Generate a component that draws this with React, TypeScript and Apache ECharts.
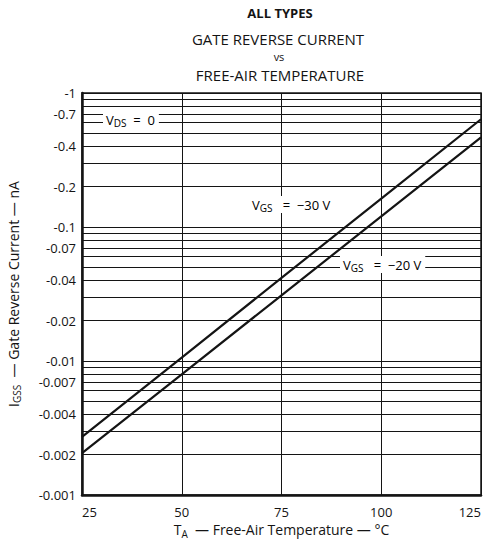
import React, { useEffect, useRef } from "react";
import * as echarts from "echarts";

const temperatureC = [25, 50, 75, 100, 125];
const igssVgs30 = [0.00272, 0.0106, 0.0417, 0.163, 0.637];
const igssVgs20 = [0.00205, 0.00796, 0.0309, 0.12, 0.467];
const xTickValues = [25, 50, 75, 100, 125];
const yLabelValues = [0.001, 0.002, 0.004, 0.007, 0.01, 0.02, 0.04, 0.07, 0.1, 0.2, 0.4, 0.7, 1];
const yGridValues = [
  0.001, 0.002, 0.003, 0.004, 0.005, 0.006, 0.007, 0.008, 0.009,
  0.01, 0.02, 0.03, 0.04, 0.05, 0.06, 0.07, 0.08, 0.09,
  0.1, 0.2, 0.3, 0.4, 0.5, 0.6, 0.7, 0.8, 0.9, 1,
];

const FONT = "Open Sans";
const INK = "#141414";

export default function App() {
  const ref = useRef<HTMLDivElement>(null);
  useEffect(() => {
    if (!ref.current) return;
    const chart = echarts.init(ref.current, null, { renderer: "svg" });
    const rich = {
      v: { fontSize: 13, fontFamily: FONT, color: INK },
      s: { fontSize: 10, fontFamily: FONT, color: INK, padding: [7, 0, 0, 0] },
    };
    const nameRich = {
      v: { fontSize: 14, fontFamily: FONT, color: INK },
      s: { fontSize: 10, fontFamily: FONT, color: INK, padding: [8, 0, 0, 0] },
    };
    chart.setOption({
      animation: false,
      backgroundColor: "#fff",
      grid: {
        left: 82, right: 8, top: 93, bottom: 47,
        outerBoundsMode: "none",
        containLabel: false,
        show: true, borderColor: INK, borderWidth: 1.5,
      },
      graphic: [
        { type: "text", x: 280, y: 6, style: { text: "ALL TYPES", font: `bold 13px '${FONT}'`, fill: INK, align: "center" } },
        { type: "text", x: 278, y: 31, style: { text: "GATE REVERSE CURRENT", font: `15px '${FONT}'`, fill: INK, align: "center" } },
        { type: "text", x: 279, y: 51, style: { text: "vs", font: `11px '${FONT}'`, fill: INK, align: "center" } },
        { type: "text", x: 280, y: 67, style: { text: "FREE-AIR TEMPERATURE", font: `15px '${FONT}'`, fill: INK, align: "center" } },
        {
          type: "text", left: 103, top: 111, z: 10,
          style: { text: "{v|V}{s|DS}{v|  =  0}", rich, backgroundColor: "#fff", padding: [0, 4, 0, 3] },
        },
        {
          type: "text", left: 249, top: 196, z: 10,
          style: { text: "{v|V}{s|GS}{v|   =  −30 V}", rich, backgroundColor: "#fff", padding: [0, 4, 0, 3] },
        },
        {
          type: "text", left: 340, top: 256, z: 10,
          style: { text: "{v|V}{s|GS}{v|   =  −20 V}", rich, backgroundColor: "#fff", padding: [0, 4, 0, 3] },
        },
      ],
      xAxis: {
        type: "value",
        min: 25, max: 125, interval: 25,
        name: "{v|T}{s|A}{v|  — Free-Air Temperature — °C}",
        nameLocation: "middle",
        nameGap: 24,
        nameTextStyle: { rich: nameRich },
        axisLine: { show: true, lineStyle: { color: INK, width: 2.5 } },
        axisTick: { show: false, customValues: xTickValues },
        axisLabel: {
          customValues: xTickValues,
          color: INK, fontSize: 13, fontFamily: FONT, margin: 10,
          alignMinLabel: "left", alignMaxLabel: "right",
        },
        splitLine: { show: true, lineStyle: { color: INK, width: 1 } },
      },
      yAxis: {
        type: "log",
        logBase: 10,
        min: 0.001, max: 1,
        name: "{v|I}{s|GSS}{v|  — Gate Reverse Current — nA}",
        nameLocation: "middle",
        nameGap: 60,
        nameTextStyle: { rich: nameRich },
        axisLine: { show: true, lineStyle: { color: INK, width: 2.5 } },
        axisTick: { show: false, customValues: yGridValues },
        axisLabel: {
          customValues: yLabelValues,
          color: INK, fontSize: 13, fontFamily: FONT, margin: 6,
          formatter: (v: number) => "-" + String(Number(v.toPrecision(3))),
        },
        splitLine: { show: true, lineStyle: { color: INK, width: 1 } },
      },
      series: [
        {
          name: "VGS = -30 V",
          type: "line",
          data: temperatureC.map((t, i) => [t, igssVgs30[i]]),
          showSymbol: false,
          lineStyle: { color: INK, width: 2.2 },
          z: 5,
        },
        {
          name: "VGS = -20 V",
          type: "line",
          data: temperatureC.map((t, i) => [t, igssVgs20[i]]),
          showSymbol: false,
          lineStyle: { color: INK, width: 2.2 },
          z: 5,
        },
      ],
    });
    return () => chart.dispose();
  }, []);
  return (
    <div
      ref={ref}
      style={{ position: "fixed", left: 0, top: 0, width: 489, height: 542, background: "#fff" }}
    />
  );
}
